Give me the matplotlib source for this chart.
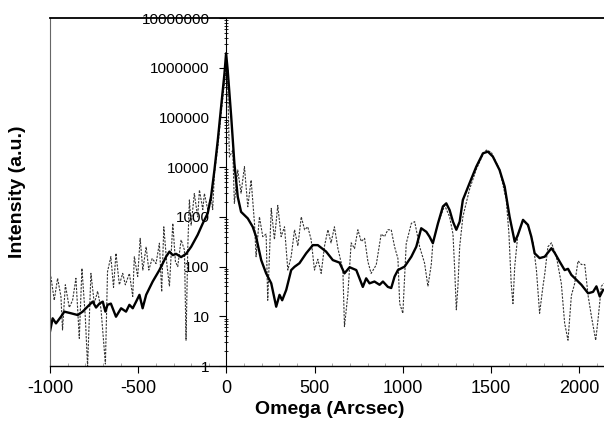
import numpy as np
import matplotlib
matplotlib.use('Agg')
import matplotlib.pyplot as plt
from matplotlib.ticker import FixedLocator, MultipleLocator, LogLocator, NullFormatter

plt.rcParams['font.family'] = ['Liberation Sans', 'DejaVu Sans']

# measured curve (solid)
meas_x = [-1004, -985, -966, -938, -919, -881, -843, -815, -777, -758, -739, -720, -701,
          -686, -674, -655, -626, -597, -569, -550, -531, -512, -493, -475, -455, -418,
          -380, -342, -323, -304, -285, -257, -229, -200, -163, -134, -106, -87, -68, -49,
          -30, -11, -2, 7, 27, 45, 64, 83, 121, 149, 168, 197, 225, 254, 282, 301, 316,
          339, 367, 386, 414, 452, 490, 518, 565, 603, 641, 669, 698, 736, 773, 792, 811,
          839, 868, 887, 915, 934, 953, 972, 1010, 1048, 1076, 1104, 1133, 1151, 1170, 1199,
          1227, 1246, 1265, 1284, 1303, 1322, 1340, 1378, 1416, 1454, 1482, 1510, 1548,
          1577, 1605, 1634, 1652, 1681, 1709, 1728, 1747, 1775, 1804, 1842, 1860, 1889,
          1917, 1936, 1955, 1984, 2012, 2050, 2078, 2097, 2116, 2135]
meas_y = [4.2, 9.1, 7.2, 9.8, 12.4, 11.5, 10.6, 12.4, 17, 19.7, 15, 18, 19.7,
          12.4, 17, 18, 9.8, 14.5, 12.4, 17, 14.5, 19.7, 27, 14.5, 27, 50,
          85, 158, 200, 170, 180, 155, 180, 250, 435, 740, 1180, 2570, 8770, 35000,
          166000, 780000, 1950000, 910000, 104000, 12000, 2550, 1260, 930, 630, 400, 135,
          73, 46, 15.6, 27, 21, 34, 85, 99, 117, 185, 270, 270, 200, 135, 120, 73, 97, 85,
          39, 58, 46, 50, 43, 50, 39, 37, 63, 85, 100, 158, 251, 590, 500, 400, 295, 740,
          1620, 1870, 1370, 800, 550, 800, 2190, 4760, 10200, 19000, 20500, 16300, 8770,
          4060, 1000, 316, 435, 870, 690, 400, 185, 148, 158, 234, 190, 125,
          85, 90, 68, 54, 43, 29, 31, 40, 25, 34]

# simulated curve (dotted)
sim_x = [-995, -976, -957, -938, -929, -913, -891, -872, -853, -834, -819, -800, -787,
         -768, -749, -730, -711, -686, -674, -655, -640, -626, -607, -588, -573, -550,
         -531, -522, -503, -489, -474, -455, -440, -421, -399, -380, -367, -355, -338,
         -323, -304, -289, -276, -257, -238, -229, -219, -210, -200, -182, -163, -153,
         -134, -125, -106, -87, -78, -68, -49, -30, -11, -2, 7, 17, 36, 45, 64, 83, 102,
         121, 140, 159, 168, 187, 206, 225, 234, 254, 272, 291, 310, 329, 348, 367, 386,
         405, 424, 443, 461, 480, 499, 518, 537, 556, 575, 593, 612, 632, 660, 669, 688,
         707, 726, 745, 764, 783, 802, 820, 849, 877, 896, 915, 934, 953, 972, 982, 1000,
         1019, 1048, 1067, 1095, 1123, 1142, 1161, 1170, 1199, 1237, 1265, 1284, 1293,
         1303, 1312, 1322, 1340, 1378, 1416, 1454, 1473, 1501, 1548, 1586, 1601, 1614,
         1624, 1634, 1652, 1681, 1709, 1738, 1757, 1775, 1794, 1804, 1822, 1842, 1870,
         1898, 1917, 1936, 1955, 1974, 1993, 2012, 2031, 2050, 2069, 2093, 2106, 2125, 2138]
sim_y = [63, 21, 58, 25, 5.3, 43, 15, 21, 58, 3.6, 92, 9.8, 1,
         73, 18, 32, 14, 1.1, 79, 158, 38, 185, 43, 73, 43, 73,
         25, 158, 63, 370, 85, 250, 85, 145, 115, 295, 31, 630, 115,
         40, 740, 125, 100, 345, 215, 3.3, 250, 2190, 680, 2950, 1000, 3470,
         1400, 2950, 1400, 2570, 1400, 7500, 25000, 120000, 500000, 1100000, 500000, 16000,
         22000, 1870, 8770, 3000, 10200,
         1600, 5500, 740, 158, 1000, 400, 450, 21, 1480, 350, 1700, 400, 630, 85, 160, 550,
         260, 1000, 550, 630, 350, 85, 140, 73, 260, 550, 300, 630, 230, 85, 6.2, 27,
         300, 230, 550, 320, 370, 125, 73, 108, 450, 400, 550, 550, 250, 145, 18, 11.5,
         290, 740, 800, 250, 117, 40, 110, 300, 740, 1700, 1000, 450, 100,
         13.5, 40, 250, 1000, 3600, 9000, 18000, 22000, 20000, 9000, 2200, 470, 46,
         18, 100, 450, 870, 650, 300, 85, 11.5, 40, 70, 250, 300, 160,
         46, 7.2, 3.3, 26, 46, 130, 110, 110, 26, 9.8, 3.3, 8.5, 40, 46]

x_ticks = [-1000, -500, 0, 500, 1000, 1500, 2000]
y_ticks = [1, 10, 100, 1000, 10000, 100000, 1000000, 10000000]

fig = plt.figure(figsize=(6.04, 4.30), dpi=100)
ax = fig.add_axes([50/604, 1-366/430, 554/604, 348/430])

ax.plot(sim_x, sim_y, color='#333333', lw=0.8, linestyle=(0, (2, 1.2)))
ax.plot(meas_x, meas_y, color='black', lw=1.7)

ax.set_yscale('log')
ax.set_xlim(-1000, 2140)
ax.set_ylim(1, 1e7)

# y axis sits at omega = 0
ax.spines['left'].set_position(('data', 0))
ax.spines['left'].set_linewidth(0.8)
ax.spines['right'].set_visible(False)
ax.spines['top'].set_linewidth(1.3)
ax.spines['bottom'].set_linewidth(1.0)
ax.plot([0, 0], [0, 1], transform=ax.transAxes, color='#666666', lw=0.8, clip_on=False)

ax.yaxis.set_major_locator(FixedLocator(y_ticks))
ax.set_yticklabels([str(v) for v in y_ticks], fontsize=11)
ax.yaxis.set_minor_locator(LogLocator(base=10, subs=np.arange(2, 10)))
ax.yaxis.set_minor_formatter(NullFormatter())
ax.tick_params(axis='y', which='major', direction='out', length=5, width=0.8, pad=7)
ax.tick_params(axis='y', which='minor', direction='inout', length=3, width=0.6)

ax.xaxis.set_major_locator(FixedLocator(x_ticks))
ax.set_xticklabels([str(v) for v in x_ticks], fontsize=13)
ax.xaxis.set_minor_locator(MultipleLocator(100))
ax.tick_params(axis='x', which='major', direction='out', length=5, width=0.8, pad=5)
ax.tick_params(axis='x', which='minor', direction='in', length=2, width=0.5, color='#888888')

fig.text(330/604, 1 - 409/430, 'Omega (Arcsec)', fontsize=14,
         fontweight='bold', ha='center', va='center')
fig.text(18/604, 1 - 192/430, 'Intensity (a.u.)', fontsize=14, fontweight='bold',
         rotation=90, ha='center', va='center')

fig.savefig('out.png', dpi=100)
